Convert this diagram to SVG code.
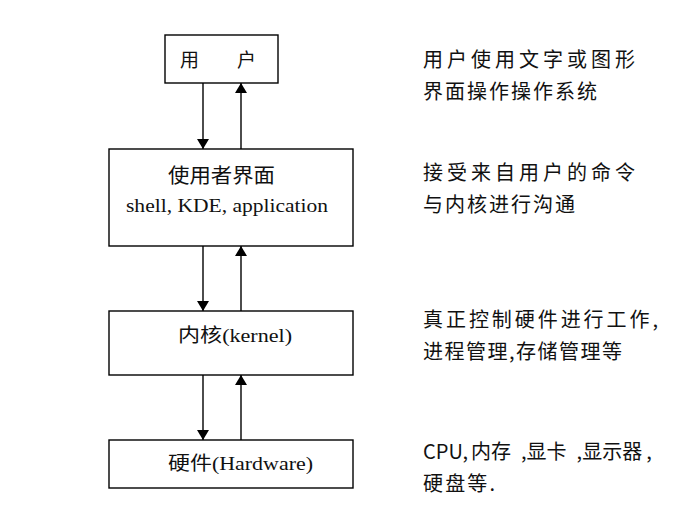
<svg xmlns="http://www.w3.org/2000/svg" width="689" height="508" viewBox="0 0 689 508">
<style>
.box{fill:#fff;stroke:#000;stroke-width:1.4}
.cn{font-family:"Noto Sans CJK SC","Noto Sans",sans-serif;fill:#111}
.en{font-family:"Liberation Serif","Noto Sans CJK SC",serif;fill:#111}
.side{font-family:"Noto Sans CJK SC","Liberation Sans",sans-serif;font-size:20px;fill:#111}
.ln{stroke:#000;stroke-width:1.4;fill:none}
</style>
<defs>
<marker id="ah" viewBox="0 0 10 12" refX="10" refY="6" markerWidth="10" markerHeight="12" markerUnits="userSpaceOnUse" orient="auto">
<path d="M0,0 L10,6 L0,12 Z" fill="#000"/>
</marker>
</defs>
<rect width="689" height="508" fill="#fff"/>
<g id="connectors">
<line class="ln" x1="203" y1="83" x2="203" y2="149" marker-end="url(#ah)"/>
<line class="ln" x1="241" y1="149" x2="241" y2="83" marker-end="url(#ah)"/>
<line class="ln" x1="203" y1="246" x2="203" y2="311" marker-end="url(#ah)"/>
<line class="ln" x1="241" y1="311" x2="241" y2="246" marker-end="url(#ah)"/>
<line class="ln" x1="203" y1="375" x2="203" y2="440" marker-end="url(#ah)"/>
<line class="ln" x1="241" y1="440" x2="241" y2="375" marker-end="url(#ah)"/>
</g>
<g id="user">
<rect class="box" x="165" y="35" width="113" height="48"/>
<text class="cn" x="180" y="67" font-size="19">用</text>
<text class="cn" x="237" y="67" font-size="19">户</text>
</g>
<g id="interface">
<rect class="box" x="109" y="149" width="244" height="97"/>
<text class="cn" x="168" y="183" font-size="20" textLength="107" lengthAdjust="spacingAndGlyphs">使用者界面</text>
<text class="en" x="126" y="212" font-size="18" textLength="202" lengthAdjust="spacingAndGlyphs">shell, KDE, application</text>
</g>
<g id="kernel">
<rect class="box" x="109" y="311" width="244" height="64"/>
<text class="en" x="178" y="342" font-size="19" textLength="114" lengthAdjust="spacingAndGlyphs">内核(kernel)</text>
</g>
<g id="hardware">
<rect class="box" x="109" y="440" width="244" height="48"/>
<text class="en" x="168" y="470" font-size="19" textLength="145" lengthAdjust="spacingAndGlyphs">硬件(Hardware)</text>
</g>
<g id="notes">
<text class="side" x="423" y="67" textLength="212" lengthAdjust="spacing">用户使用文字或图形</text>
<text class="side" x="423" y="99" textLength="174" lengthAdjust="spacing">界面操作操作系统</text>
<text class="side" x="423" y="180" textLength="212" lengthAdjust="spacing">接受来自用户的命令</text>
<text class="side" x="423" y="212" textLength="152" lengthAdjust="spacing">与内核进行沟通</text>
<text class="side" x="423" y="327" textLength="235" lengthAdjust="spacing">真正控制硬件进行工作,</text>
<text class="side" x="423" y="359" textLength="199" lengthAdjust="spacing">进程管理,存储管理等</text>
<text class="side" x="423" y="459">CPU,<tspan dx="3">内存</tspan><tspan dx="10">,显卡</tspan><tspan dx="10">,显示器</tspan><tspan dx="4">,</tspan></text>
<text class="side" x="423" y="491" textLength="72" lengthAdjust="spacing">硬盘等.</text>
</g>
</svg>
